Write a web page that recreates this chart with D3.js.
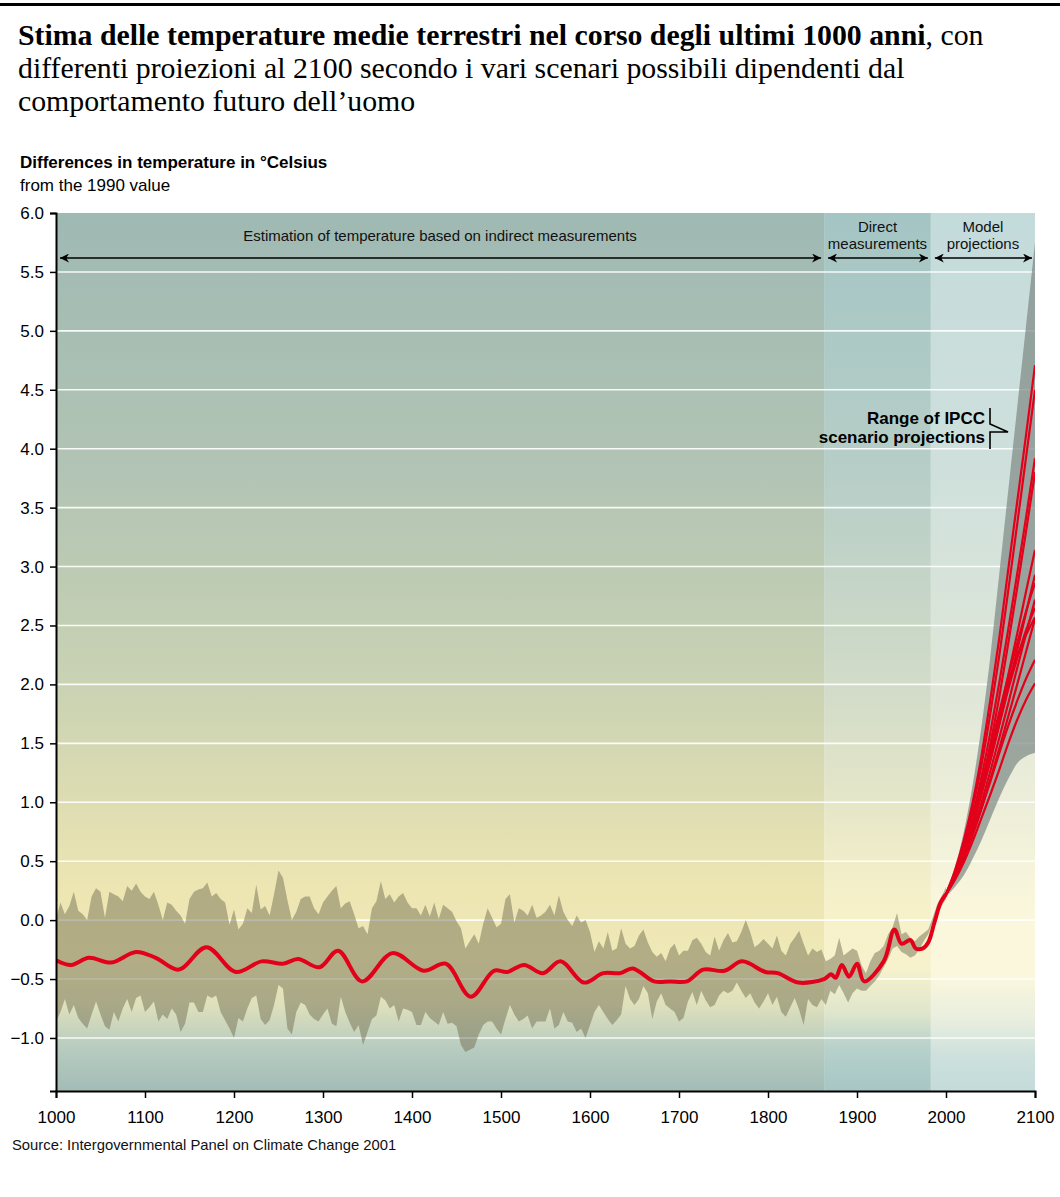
<!DOCTYPE html>
<html><head><meta charset="utf-8">
<script src="https://cdn.jsdelivr.net/npm/d3@7"></script>
<style>body{margin:0;background:#fff}svg{display:block}</style>
</head><body><svg id="c" width="1060" height="1197"></svg>
<script>
// ---------- data ----------
const titleBold = "Stima delle temperature medie terrestri nel corso degli ultimi 1000 anni";
const titleRest1 = ", con";
const titleLine2 = "differenti proiezioni al 2100 secondo i vari scenari possibili dipendenti dal";
const titleLine3 = "comportamento futuro dell\u2019uomo";
const yTitle = "Differences in temperature in \u00B0Celsius";
const ySubtitle = "from the 1990 value";
const source = "Source: Intergovernmental Panel on Climate Change 2001";

const xTicks = [1000,1100,1200,1300,1400,1500,1600,1700,1800,1900,2000,2100];
const yTicks = [-1.0,-0.5,0.0,0.5,1.0,1.5,2.0,2.5,3.0,3.5,4.0,4.5,5.0,5.5,6.0];
const gridValues = [-1.0,-0.5,0.0,0.5,1.0,1.5,2.0,2.5,3.0,3.5,4.0,4.5,5.0,5.5];

const zoneNames = ["indirect","direct","model"];
const zoneStart = [1000,1863,1983];
const zoneEnd   = [1863,1983,2100];
const zoneLabels = [["Estimation of temperature based on indirect measurements"],["Direct","measurements"],["Model","projections"]];

// smoothed red curve (years / values)
const histYears = [1000,1017,1037,1062,1090,1112,1138,1169,1202,1231,1255,1272,1296,1317,1344,1378,1413,1438,1466,1492,1507,1526,1547,1567,1593,1615,1634,1648,1672,1690,1709,1727,1751,1771,1797,1811,1834,1863,1871,1876,1883,1891,1900,1908,1930,1942,1950,1960,1966,1974,1980,1987,1994,2000];
const histValues = [-0.34,-0.38,-0.32,-0.36,-0.27,-0.32,-0.42,-0.23,-0.44,-0.35,-0.37,-0.33,-0.40,-0.26,-0.52,-0.28,-0.43,-0.37,-0.65,-0.43,-0.44,-0.38,-0.45,-0.35,-0.53,-0.45,-0.45,-0.41,-0.52,-0.52,-0.52,-0.42,-0.43,-0.35,-0.44,-0.45,-0.53,-0.50,-0.46,-0.49,-0.38,-0.48,-0.37,-0.52,-0.35,-0.08,-0.20,-0.17,-0.24,-0.24,-0.19,-0.02,0.15,0.22];

// uncertainty band, one value every 5 years from 1000 to 2000
const bandStartYear = 1000, bandStepYears = 5;
const bandUpper = [
0.01,0.15,0.05,0.12,0.24,0.08,0.05,0.0,0.2,0.27,
0.24,0.02,0.24,0.22,0.2,0.16,0.29,0.25,0.31,0.24,
0.2,0.18,0.24,0.13,0.0,0.15,0.13,0.08,0.04,-0.03,
0.18,0.24,0.26,0.27,0.32,0.2,0.23,0.18,0.15,-0.04,
0.09,-0.08,-0.03,0.1,0.06,0.3,0.09,0.12,0.04,0.22,
0.42,0.36,0.17,0.0,0.07,0.18,0.2,0.2,0.1,0.05,
0.15,0.2,0.25,0.29,0.1,0.14,
0.16,0.05,-0.07,-0.05,-0.12,0.1,0.16,0.33,0.18,0.22,
0.15,0.2,0.23,0.15,0.1,0.1,0.04,0.13,0.03,0.15,
0.01,0.13,0.1,0.07,-0.01,-0.07,-0.24,-0.18,-0.12,-0.2,
-0.03,0.1,0.02,-0.06,-0.03,0.18,0.22,-0.02,0.1,0.08,
0.04,0.13,0.02,0.04,0.07,0.13,0.04,0.21,0.07,0.0,
-0.05,0.04,-0.02,0.0,-0.1,-0.27,-0.18,-0.24,-0.1,-0.26,
-0.24,-0.07,-0.2,-0.24,
-0.22,-0.13,-0.08,-0.19,-0.27,-0.31,-0.28,-0.35,-0.24,-0.2,
-0.3,-0.26,-0.26,-0.17,-0.15,-0.2,-0.27,-0.3,-0.14,-0.26,
-0.17,-0.11,-0.19,-0.18,-0.1,0.0,-0.1,-0.23,-0.2,-0.16,
-0.2,-0.24,-0.13,-0.26,-0.3,-0.2,-0.15,-0.09,-0.2,-0.3,
-0.24,-0.27,-0.25,
-0.35,-0.33,-0.3,-0.15,-0.3,-0.27,-0.24,-0.26,-0.38,-0.45,
-0.35,-0.28,-0.26,-0.22,-0.12,-0.06,0.06,-0.12,-0.1,-0.15,
-0.18,-0.14,-0.11,-0.08,0.02,0.13,0.2,0.28];
const bandLower = [
-0.86,-0.78,-0.67,-0.8,-0.72,-0.83,-0.88,-0.92,-0.8,-0.69,
-0.8,-0.9,-0.93,-0.78,-0.86,-0.75,-0.67,-0.78,-0.66,-0.64,
-0.78,-0.74,-0.69,-0.86,-0.8,-0.84,-0.75,-0.8,-0.95,-0.88,
-0.7,-0.7,-0.78,-0.78,-0.64,-0.66,-0.64,-0.78,-0.85,-0.92,
-1.0,-0.83,-0.86,-0.75,-0.66,-0.64,-0.84,-0.89,-0.85,-0.72,
-0.55,-0.58,-0.92,-0.97,-0.78,-0.7,-0.72,-0.8,-0.84,-0.86,
-0.8,-0.75,-0.88,-0.9,-0.65,-0.78,
-0.87,-0.95,-0.89,-1.06,-0.95,-0.84,-0.81,-0.65,-0.68,-0.75,
-0.72,-0.86,-0.75,-0.76,-0.78,-0.89,-0.89,-0.78,-0.83,-0.86,
-0.89,-0.78,-0.88,-0.87,-0.9,-1.06,-1.12,-1.1,-1.08,-0.97,
-0.89,-0.86,-0.86,-0.92,-0.97,-0.84,-0.72,-0.8,-0.86,-0.84,
-0.81,-0.92,-0.86,-0.86,-0.86,-0.75,-0.92,-0.89,-0.78,-0.86,
-0.87,-0.95,-0.92,-1.0,-0.89,-0.78,-0.72,-0.78,-0.84,-0.89,
-0.85,-0.8,-0.56,-0.67,
-0.72,-0.67,-0.56,-0.62,-0.84,-0.69,-0.62,-0.72,-0.75,-0.78,
-0.86,-0.83,-0.69,-0.61,-0.72,-0.6,-0.68,-0.74,-0.72,-0.64,
-0.6,-0.62,-0.6,-0.53,-0.6,-0.66,-0.62,-0.7,-0.75,-0.69,
-0.62,-0.72,-0.65,-0.78,-0.82,-0.74,-0.66,-0.76,-0.89,-0.67,
-0.72,-0.74,-0.67,
-0.72,-0.6,-0.63,-0.55,-0.62,-0.7,-0.62,-0.58,-0.6,-0.6,
-0.56,-0.52,-0.47,-0.4,-0.33,-0.24,-0.22,-0.27,-0.29,-0.32,
-0.3,-0.25,-0.18,-0.12,-0.02,0.04,0.12,0.18];

// projection range (grey fan)
const fanYears = [2000,2010,2020,2030,2040,2050,2060,2070,2075,2080,2090,2100];
const fanUpper = [0.25,0.45,0.75,1.15,1.65,2.25,2.95,3.65,4.0,4.35,5.05,5.75];
const fanLower = [0.2,0.28,0.38,0.52,0.68,0.86,1.04,1.2,1.27,1.33,1.39,1.42];

// IPCC scenario projections
const projYears = [2000,2010,2020,2030,2040,2050,2060,2070,2080,2090,2100];
const scenA = [0.22,0.42,0.68,1.0,1.4,1.88,2.4,2.98,3.55,4.12,4.71];
const scenB = [0.22,0.4,0.64,0.95,1.32,1.76,2.25,2.8,3.36,3.93,4.5];
const scenC = [0.22,0.38,0.6,0.88,1.22,1.6,2.02,2.47,2.94,3.42,3.92];
const scenD = [0.22,0.36,0.56,0.82,1.14,1.5,1.9,2.35,2.82,3.3,3.8];
const scenE = [0.22,0.38,0.58,0.83,1.1,1.4,1.74,2.08,2.43,2.79,3.14];
const scenF = [0.22,0.37,0.56,0.8,1.07,1.36,1.67,1.98,2.29,2.61,2.93];
const scenG = [0.22,0.4,0.62,0.88,1.16,1.46,1.77,2.07,2.35,2.62,2.86];
const scenH = [0.22,0.36,0.54,0.76,1.0,1.27,1.55,1.84,2.14,2.43,2.72];
const scenI = [0.22,0.39,0.6,0.86,1.14,1.44,1.74,2.02,2.24,2.42,2.57];
const scenJ = [0.22,0.35,0.51,0.72,0.95,1.2,1.46,1.73,2.0,2.28,2.56];
const scenK = [0.22,0.38,0.58,0.82,1.08,1.36,1.66,1.96,2.22,2.46,2.65];
const scenL = [0.22,0.36,0.53,0.73,0.95,1.18,1.42,1.65,1.86,2.05,2.21];
const scenM = [0.22,0.34,0.49,0.67,0.87,1.07,1.28,1.5,1.7,1.87,2.01];
const scenarios = [scenA,scenB,scenC,scenD,scenE,scenF,scenG,scenH,scenI,scenJ,scenK,scenL,scenM];

const ipccLabel = ["Range of IPCC","scenario projections"];

// ---------- drawing ----------
const svg = d3.select("#c");
const x = d3.scaleLinear().domain([1000,2100]).range([56,1035]);
const y = d3.scaleLinear().domain([-1.45,6.0]).range([1091,213]);
const FONT = "'Liberation Sans', Arial, Helvetica, sans-serif";
const SERIF = "'Liberation Serif','Times New Roman',serif";
const RED = "#e2001a";

// top rule
svg.append("rect").attr("x",0).attr("y",3).attr("width",1060).attr("height",3).attr("fill","#000");

// title
const t1 = svg.append("text").attr("x",18).attr("y",45)
  .style("font-family",SERIF).style("font-size","29.8px").attr("fill","#000");
t1.append("tspan").attr("font-weight","bold").text(titleBold);
t1.append("tspan").text(titleRest1);
svg.append("text").attr("x",18).attr("y",78)
  .style("font-family",SERIF).style("font-size","29.8px").text(titleLine2);
svg.append("text").attr("x",18).attr("y",111)
  .style("font-family",SERIF).style("font-size","29.8px").text(titleLine3);

// axis titles
svg.append("text").attr("x",20).attr("y",168).style("font-family",FONT).style("font-size","17px")
  .attr("font-weight","bold").text(yTitle);
svg.append("text").attr("x",20).attr("y",191).style("font-family",FONT).style("font-size","17px").text(ySubtitle);

// gradients for zones
const defs = svg.append("defs");
const zoneStops = {
  indirect: [[0,"#9fb9b3"],[0.3,"#b2c4b4"],[0.55,"#cbd3b3"],[0.7,"#e2dfb2"],[0.77,"#ede6b3"],[0.85,"#efe8b7"],[0.9,"#dfe1bb"],[0.95,"#b8ccc0"],[1,"#a2bcb6"]],
  direct:   [[0,"#a4c5c4"],[0.3,"#b7cec7"],[0.55,"#d3dcc8"],[0.7,"#eae9c8"],[0.79,"#f6f1c9"],[0.86,"#f6f2cc"],[0.91,"#e0e6cc"],[0.95,"#b8d1cb"],[1,"#a6c6c5"]],
  model:    [[0,"#c4dbdb"],[0.3,"#cfe0dc"],[0.55,"#e0e7d8"],[0.72,"#f2f1da"],[0.8,"#faf7dc"],[0.87,"#faf7dd"],[0.92,"#e8eedf"],[0.96,"#cde0dc"],[1,"#c4dbdb"]]
};
zoneNames.forEach(n=>{
  const g = defs.append("linearGradient").attr("id","g-"+n).attr("gradientUnits","userSpaceOnUse")
    .attr("x1",0).attr("x2",0).attr("y1",y(6.0)).attr("y2",y(-1.45));
  zoneStops[n].forEach(s=>g.append("stop").attr("offset",s[0]).attr("stop-color",s[1]));
});
defs.append("clipPath").attr("id","plotclip").append("rect")
  .attr("x",x(1000)).attr("y",y(6.0)).attr("width",x(2100)-x(1000)).attr("height",y(-1.45)-y(6.0));

const plot = svg.append("g").attr("clip-path","url(#plotclip)");
plot.selectAll("rect.zone").data(zoneNames).join("rect").attr("class","zone")
  .attr("x",(d,i)=>x(zoneStart[i])).attr("width",(d,i)=>x(zoneEnd[i])-x(zoneStart[i]))
  .attr("y",y(6.0)).attr("height",y(-1.45)-y(6.0)).attr("fill",d=>"url(#g-"+d+")");

// grid lines
plot.selectAll("line.grid").data(gridValues).join("line").attr("class","grid")
  .attr("x1",x(1000)).attr("x2",x(2100)).attr("y1",d=>y(d)).attr("y2",d=>y(d))
  .attr("stroke","#ffffff").attr("stroke-opacity",0.9).attr("stroke-width",1.6);

// uncertainty band
const band = bandUpper.map((u,i)=>({yr:bandStartYear+i*bandStepYears,u:u,l:bandLower[i]}));
plot.append("path").datum(band)
  .attr("d",d3.area().x(d=>x(d.yr)).y0(d=>y(d.l)).y1(d=>y(d.u)))
  .attr("fill","#6e6a4c").attr("fill-opacity",0.47);

// projection fan
const fan = fanYears.map((yr,i)=>({yr:yr,u:fanUpper[i],l:fanLower[i]}));
plot.append("path").datum(fan)
  .attr("d",d3.area().x(d=>x(d.yr)).y0(d=>y(d.l)).y1(d=>y(d.u)).curve(d3.curveMonotoneX))
  .attr("fill","#7f8a87").attr("fill-opacity",0.72);

// scenarios
const pline = d3.line().x((d,i)=>x(projYears[i])).y(d=>y(d)).curve(d3.curveMonotoneX);
plot.selectAll("path.scen").data(scenarios).join("path").attr("class","scen")
  .attr("d",pline).attr("fill","none").attr("stroke",RED).attr("stroke-width",2.2);

// historical smoothed line
const hline = d3.line().x((d,i)=>x(histYears[i])).y(d=>y(d)).curve(d3.curveCatmullRom.alpha(0.5));
plot.append("path").datum(histValues).attr("d",hline)
  .attr("fill","none").attr("stroke",RED).attr("stroke-width",4).attr("stroke-linejoin","round");

// axes
const xAxis = d3.axisBottom(x).tickValues(xTicks).tickFormat(d3.format("d")).tickSize(7).tickPadding(13);
const gx = svg.append("g").attr("transform",`translate(0,${y(-1.45)})`).call(xAxis);
gx.select(".domain").attr("stroke","#000").attr("stroke-width",2);
gx.selectAll(".tick line").attr("stroke","#000").attr("stroke-width",1.5);
gx.selectAll(".tick text").style("font-family",FONT).style("font-size","17px").attr("fill","#000");

const yAxis = d3.axisLeft(y).tickValues(yTicks).tickFormat(d=>d3.format(".1f")(d).replace("-","\u2212")).tickSize(6).tickPadding(6);
const gy = svg.append("g").attr("transform",`translate(${x(1000)},0)`).call(yAxis);
gy.select(".domain").attr("stroke","#000").attr("stroke-width",2);
gy.selectAll(".tick line").attr("stroke","#000").attr("stroke-width",1.5);
gy.selectAll(".tick text").style("font-family",FONT).style("font-size","17px").attr("fill","#000");

// zone arrows
const mk = defs.append("marker").attr("id","arrowE").attr("viewBox","0 0 10 10").attr("refX",10).attr("refY",5)
  .attr("markerWidth",12).attr("markerHeight",9).attr("markerUnits","userSpaceOnUse").attr("orient","auto-start-reverse");
mk.append("path").attr("d","M0,0 L10,5 L0,10 L3,5 Z").attr("fill","#000");
const arrowY = 258;
svg.selectAll("line.zarrow").data(zoneNames).join("line").attr("class","zarrow")
  .attr("x1",(d,i)=>x(zoneStart[i])+4).attr("x2",(d,i)=>x(zoneEnd[i])-3)
  .attr("y1",arrowY).attr("y2",arrowY).attr("stroke","#000").attr("stroke-width",1.6)
  .attr("marker-start","url(#arrowE)").attr("marker-end","url(#arrowE)");
zoneNames.forEach((n,i)=>{
  const cx = (x(zoneStart[i])+x(zoneEnd[i]))/2;
  const lines = zoneLabels[i];
  const t = svg.append("text").attr("text-anchor","middle").style("font-family",FONT).style("font-size","15px").attr("fill","#111");
  lines.forEach((s,j)=>{
    t.append("tspan").attr("x",cx).attr("y", lines.length===1 ? 241 : 232+j*17).text(s);
  });
});

// IPCC label
const ipcc = svg.append("text").attr("text-anchor","end").style("font-family",FONT).style("font-size","17px")
  .attr("font-weight","bold").attr("fill","#000");
ipcc.append("tspan").attr("x",985).attr("y",424).text(ipccLabel[0]);
ipcc.append("tspan").attr("x",985).attr("y",443).text(ipccLabel[1]);
svg.append("path").attr("d","M990,408 V424 L1008,432 H990 V449").attr("fill","none").attr("stroke","#000").attr("stroke-width",1.6);

// source
svg.append("text").attr("x",12).attr("y",1150).style("font-family",FONT).style("font-size","14.8px").attr("fill","#111").text(source);
</script></body></html>
